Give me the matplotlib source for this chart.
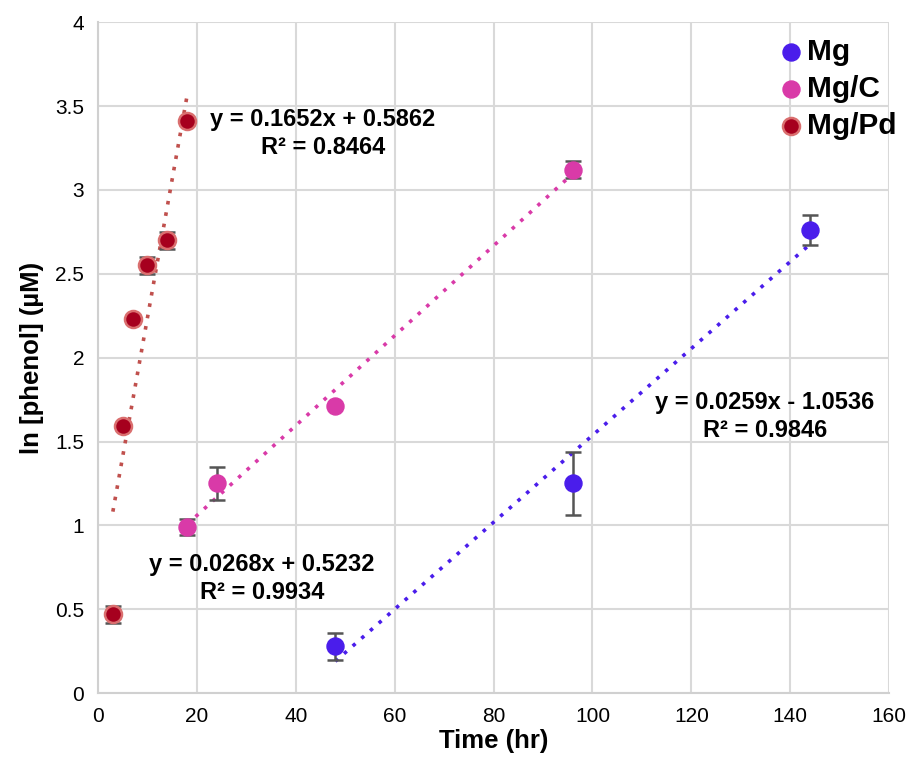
import matplotlib
matplotlib.use("Agg")
import matplotlib.pyplot as plt

plt.rcParams["font.family"] = ["Liberation Sans", "DejaVu Sans"]

# Mg
mg_x = [48, 96, 144]
mg_y = [0.28, 1.25, 2.76]
mg_err = [0.08, 0.19, 0.09]

# Mg/C
mgc_x = [18, 24, 48, 96]
mgc_y = [0.99, 1.25, 1.71, 3.12]
mgc_err = [0.05, 0.10, 0.0, 0.05]

# Mg/Pd
mgpd_x = [3, 5, 7, 10, 14, 18]
mgpd_y = [0.47, 1.59, 2.23, 2.55, 2.70, 3.41]
mgpd_err = [0.05, 0.0, 0.0, 0.05, 0.05, 0.0]

# trendlines (slope, intercept)
mg_fit = (0.0259, -1.0536)
mgc_fit = (0.0268, 0.5232)
mgpd_fit = (0.1652, 0.5862)

c_mg = "#4A1DEB"
c_mgc = "#D93AA8"
c_mgpd = "#A6001E"

fig = plt.figure(figsize=(9.11, 7.65), dpi=100)
ax = fig.add_axes([0.1076, 0.094, 0.8684, 0.877])


def trend(x, fit, color):
    xs = [x[0], x[-1]]
    ys = [fit[0] * v + fit[1] for v in xs]
    ax.plot(xs, ys, linestyle=(0, (1, 2.2)), color=color, lw=2.6, zorder=2)


trend(mg_x, mg_fit, c_mg)
trend(mgc_x, mgc_fit, c_mgc)
trend(mgpd_x, mgpd_fit, "#C0504D")

err_kw = dict(fmt="none", ecolor="#555555", elinewidth=1.8, capsize=6, capthick=1.8, zorder=3)
ax.errorbar(mg_x, mg_y, yerr=mg_err, **err_kw)
ax.errorbar(mgc_x, mgc_y, yerr=mgc_err, **err_kw)
ax.errorbar(mgpd_x, mgpd_y, yerr=mgpd_err, **err_kw)

ax.scatter(mg_x, mg_y, s=150, color=c_mg, zorder=4, label="Mg")
ax.scatter(mgc_x, mgc_y, s=150, color=c_mgc, zorder=4, label="Mg/C")
ax.scatter(mgpd_x, mgpd_y, s=150, color=c_mgpd, edgecolors="#DA6F6F", linewidths=1.8,
           zorder=4, label="Mg/Pd")

ax.set_xlim(0, 160)
ax.set_ylim(0, 4)
ax.set_xticks(range(0, 161, 20))
ax.set_yticks([0, 0.5, 1, 1.5, 2, 2.5, 3, 3.5, 4])
ax.set_yticklabels(["0", "0.5", "1", "1.5", "2", "2.5", "3", "3.5", "4"])
ax.grid(True, color="#D9D9D9", lw=1.5)
ax.set_axisbelow(True)
ax.tick_params(length=0, labelsize=15, pad=10)
for side in ["top", "right"]:
    ax.spines[side].set_visible(False)
for side in ["left", "bottom"]:
    ax.spines[side].set_color("#D0D0D0")
    ax.spines[side].set_linewidth(1.5)

ax.set_xlabel("Time (hr)", fontsize=18.5, fontweight="bold", labelpad=2)
ax.set_ylabel("ln [phenol] (\u00b5M)", fontsize=18.5, fontweight="bold", labelpad=8)

eq_kw = dict(fontsize=17, fontweight="bold", ha="center", va="center", linespacing=1.3)
ax.text(45.5, 3.335, "y = 0.1652x + 0.5862\nR\u00b2 = 0.8464", **eq_kw)
ax.text(33.2, 0.683, "y = 0.0268x + 0.5232\nR\u00b2 = 0.9934", **eq_kw)
ax.text(134.9, 1.648, "y = 0.0259x - 1.0536\nR\u00b2 = 0.9846", **eq_kw)

leg = ax.legend(loc="upper left", bbox_to_anchor=(0.849, 0.985), frameon=False,
                prop={"weight": "bold", "size": 21.5}, handletextpad=0.05, labelspacing=0.3,
                borderaxespad=0, borderpad=0.2, handlelength=1.0, scatterpoints=1)

fig.savefig("out.png", dpi=100, facecolor="white")
